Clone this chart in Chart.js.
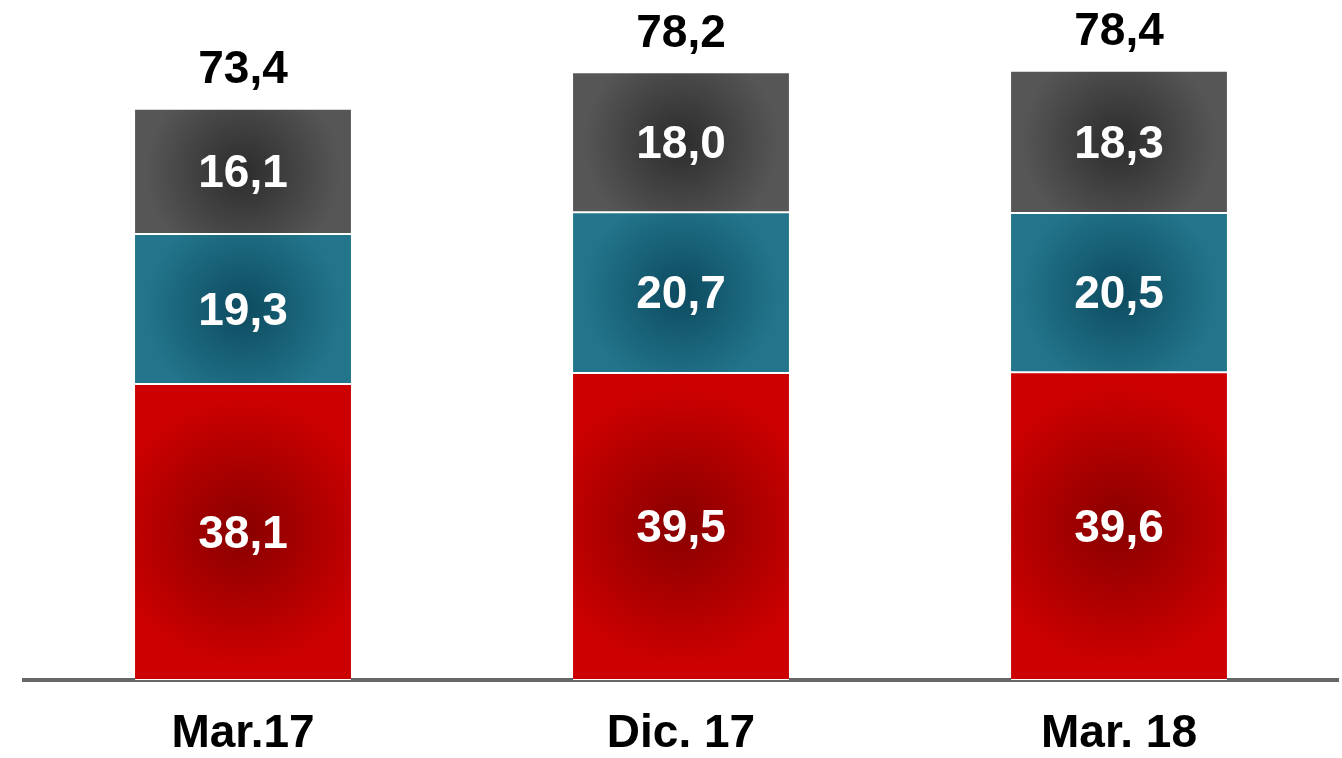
<!DOCTYPE html>
<html>
<head>
<meta charset="utf-8">
<script src="https://cdn.jsdelivr.net/npm/chart.js@4.4.1/dist/chart.umd.min.js"></script>
<style>
  html, body { margin: 0; padding: 0; background: #ffffff; }
  #wrap { width: 1342px; height: 758px; position: relative; }
</style>
</head>
<body>
<div id="wrap"><canvas id="c"></canvas></div>
<script>
const categories = ['Mar.17', 'Dic. 17', 'Mar. 18'];
const redValues = [38.1, 39.5, 39.6];
const tealValues = [19.3, 20.7, 20.5];
const grayValues = [16.1, 18.0, 18.3];
const totals = [73.4, 78.2, 78.4];

const FONT = "'Liberation Sans', Arial, sans-serif";
const stacks = [redValues, tealValues, grayValues];
const palettes = [
  { center: '#880000', edge: '#cc0000' },
  { center: '#0d4a5f', edge: '#22758b' },
  { center: '#2c2c2c', edge: '#565656' }
];

function fmt(v) { return v.toFixed(1).replace('.', ','); }

function gradientFor(dsIndex) {
  return function (ctx) {
    const chart = ctx.chart;
    if (!chart.chartArea || ctx.type !== 'data') return palettes[dsIndex].edge;
    const i = ctx.dataIndex;
    const xs = chart.scales.x, ys = chart.scales.y;
    let base = 0;
    for (let k = 0; k < dsIndex; k++) base += stacks[k][i];
    const top = base + stacks[dsIndex][i];
    const yTop = ys.getPixelForValue(top);
    const yBot = ys.getPixelForValue(base);
    const cx = xs.getPixelForValue(i);
    const cy = (yTop + yBot) / 2;
    const w = xs.getPixelForValue(1) - xs.getPixelForValue(0);
    const bw = w * 0.493;
    const h = Math.abs(yBot - yTop);
    const r = Math.max(bw, h) / 2;
    const g = chart.ctx.createRadialGradient(cx, cy, 0, cx, cy, r);
    g.addColorStop(0, palettes[dsIndex].center);
    g.addColorStop(0.9, palettes[dsIndex].edge);
    g.addColorStop(1, palettes[dsIndex].edge);
    return g;
  };
}

const labelPlugin = {
  id: 'labels',
  afterDatasetsDraw(chart) {
    const ctx = chart.ctx;
    ctx.save();
    ctx.textAlign = 'center';
    ctx.textBaseline = 'middle';
    ctx.font = 'bold 46px ' + FONT;
    chart.data.datasets.forEach((ds, di) => {
      const meta = chart.getDatasetMeta(di);
      meta.data.forEach((bar, i) => {
        const cy = (bar.y + bar.base) / 2;
        ctx.fillStyle = '#ffffff';
        ctx.fillText(fmt(ds.data[i]), bar.x, cy + 3);
      });
    });
    const topMeta = chart.getDatasetMeta(chart.data.datasets.length - 1);
    topMeta.data.forEach((bar, i) => {
      ctx.fillStyle = '#000000';
      ctx.fillText(fmt(totals[i]), bar.x, bar.y - 38);
    });
    ctx.restore();
  }
};

const mk = (label, data, di) => ({
  label, data,
  backgroundColor: gradientFor(di),
  borderColor: '#ffffff',
  borderWidth: { top: 1, bottom: 1, left: 0, right: 0 },
  borderSkipped: false,
  barPercentage: 0.493,
  categoryPercentage: 1.0
});

new Chart(document.getElementById('c'), {
  type: 'bar',
  data: {
    labels: categories,
    datasets: [
      mk('Rojo', redValues, 0),
      mk('Azul', tealValues, 1),
      mk('Gris', grayValues, 2)
    ]
  },
  options: {
    responsive: true,
    maintainAspectRatio: false,
    animation: false,
    layout: { padding: { left: 24, right: 4, top: 0, bottom: 0 } },
    plugins: { legend: { display: false }, tooltip: { enabled: false } },
    scales: {
      x: {
        stacked: true,
        grid: { display: false, drawTicks: false },
        border: { display: true, color: '#666666', width: 4 },
        ticks: {
          color: '#000000',
          padding: 27,
          font: { family: FONT, size: 46, weight: 'bold' }
        },
        afterFit(scale) { scale.height = 78; }
      },
      y: {
        stacked: true,
        display: false,
        min: 0,
        max: 87.5
      }
    }
  },
  plugins: [labelPlugin]
});
</script>
</body>
</html>
